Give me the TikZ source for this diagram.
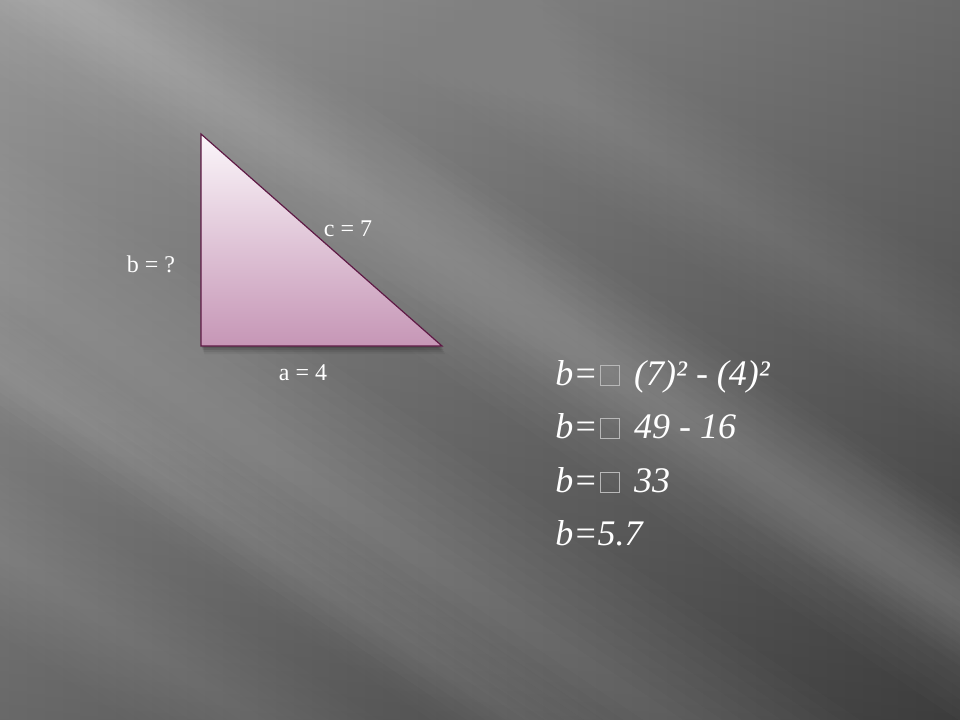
\documentclass[tikz,border=0pt]{standalone}
\usepackage{fontspec}
\setmainfont{Liberation Serif}
\usetikzlibrary{calc}
\definecolor{bgA}{HTML}{808080}
\definecolor{bgB}{HTML}{4A4A4A}
\definecolor{triTop}{HTML}{FBF6FA}
\definecolor{triBot}{HTML}{C696B6}
\definecolor{triEdge}{HTML}{5E1A45}
\definecolor{tofuGray}{HTML}{B8B8B8}
\newcommand\tofubox{\hspace{2pt}{\color{tofuGray}\setlength\fboxsep{0pt}\setlength\fboxrule{0.5pt}\fbox{\rule{0pt}{14.5pt}\hspace{13.5pt}}}\hspace{11pt}}
\newcommand\streak[4]{%
  \foreach \k in {1,...,10}{%
    \pgfmathsetmacro\ww{#3*\k/10}%
    \fill[white,opacity=#4]
      ({#1-1500*0.829+\ww*0.559},{#2-1500*0.559-\ww*0.829}) --
      ({#1+1500*0.829+\ww*0.559},{#2+1500*0.559-\ww*0.829}) --
      ({#1+1500*0.829-\ww*0.559},{#2+1500*0.559+\ww*0.829}) --
      ({#1-1500*0.829-\ww*0.559},{#2-1500*0.559+\ww*0.829}) -- cycle;
  }}
\tikzset{
  sidelabel/.style={text=white, font=\fontsize{18}{20}\selectfont, anchor=base, inner sep=0pt},
  formula/.style={text=white, font=\fontsize{27}{30}\selectfont\itshape, anchor=base west, inner sep=0pt},
  tri/.style={draw=triEdge, line width=0.9pt, line join=miter, top color=triTop, bottom color=triBot}
}
\begin{document}
\begin{tikzpicture}[x=0.75pt,y=-0.75pt]
  \useasboundingbox (0,0) rectangle (960,720);
  % background
  \shade[left color=bgA, right color=bgB] (0,0) rectangle (960,720);
  \shade[top color=black!0, bottom color=black, opacity=0.18] (0,0) rectangle (960,720);
  \begin{scope}
    \clip (0,0) rectangle (960,720);
    \streak{170}{60}{60}{0.012}
    \streak{430}{255}{90}{0.014}
    \streak{70}{320}{110}{0.016}
    \streak{150}{470}{50}{0.01}
    \streak{90}{610}{70}{0.013}
    \streak{650}{150}{70}{0.006}
  \end{scope}
  % triangle
  \coordinate (A) at (201,134);
  \coordinate (B) at (201,346);
  \coordinate (C) at (442,346);
  \foreach \d/\o in {2/0.12,4/0.10,6/0.08,8/0.05}{
    \fill[black,opacity=\o] ($(A)+(\d*0.4,\d)$) -- ($(B)+(\d*0.4,\d)$) -- ($(C)+(\d*0.4,\d)$) -- cycle;
  }
  \path[tri] (A) -- (B) -- (C) -- cycle;
  % side labels
  \node[sidelabel] (lb) at (151,273) {b = ?};
  \node[sidelabel] (lc) at (348,237) {c = 7};
  \node[sidelabel] (la) at (303,380) {a = 4};
  % formula
  \node[formula] (f1) at (555,385) {b=\tofubox(7)² - (4)²};
  \node[formula] (f2) at (555,438) {b=\tofubox49 - 16};
  \node[formula] (f3) at (555,492) {b=\tofubox33};
  \node[formula] (f4) at (555,545) {b=5.7};
\end{tikzpicture}
\end{document}
